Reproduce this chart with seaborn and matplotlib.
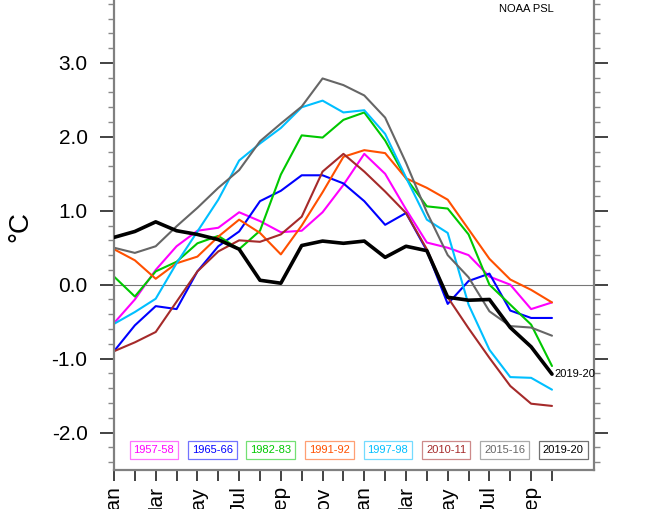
import matplotlib
matplotlib.use("Agg")
import matplotlib.pyplot as plt
import seaborn as sns
import numpy as np
import pandas as pd
from matplotlib.ticker import MultipleLocator, FixedLocator

# ---------------- data ----------------
month_labels = ["Jan", "", "Mar", "", "May", "", "Jul", "", "Sep", "", "Nov", "",
                "Jan", "", "Mar", "", "May", "", "Jul", "", "Sep", ""]
events = ["1957-58", "1965-66", "1982-83", "1991-92", "1997-98", "2010-11", "2015-16", "2019-20"]
colors = ["#FF00FF", "#0000FF", "#00C800", "#FF5000", "#00BFFF", "#A52A2A", "#666666", "#000000"]

v1957 = [-0.52, -0.20, 0.20, 0.52, 0.73, 0.77, 0.98, 0.86, 0.71, 0.73, 0.98, 1.35,
         1.77, 1.50, 1.02, 0.57, 0.50, 0.40, 0.11, 0.00, -0.33, -0.24]
v1965 = [-0.90, -0.55, -0.29, -0.33, 0.18, 0.52, 0.72, 1.13, 1.27, 1.48, 1.48, 1.37,
         1.13, 0.81, 0.97, 0.46, -0.26, 0.05, 0.15, -0.35, -0.45, -0.45]
v1982 = [0.11, -0.16, 0.18, 0.31, 0.56, 0.66, 0.48, 0.73, 1.49, 2.02, 1.99, 2.23,
         2.33, 1.95, 1.44, 1.06, 1.03, 0.68, 0.00, -0.27, -0.54, -1.10]
v1991 = [0.48, 0.33, 0.08, 0.29, 0.38, 0.65, 0.88, 0.70, 0.41, 0.80, 1.25, 1.73,
         1.82, 1.78, 1.44, 1.31, 1.15, 0.75, 0.35, 0.07, -0.07, -0.24]
v1997 = [-0.53, -0.37, -0.19, 0.29, 0.72, 1.15, 1.68, 1.91, 2.12, 2.40, 2.49, 2.33,
         2.36, 2.04, 1.45, 0.88, 0.70, -0.27, -0.88, -1.25, -1.26, -1.42]
v2010 = [-0.90, -0.78, -0.64, -0.23, 0.18, 0.45, 0.60, 0.58, 0.68, 0.92, 1.53, 1.77,
         1.53, 1.26, 0.97, 0.48, -0.17, -0.59, -0.99, -1.37, -1.61, -1.64]
v2015 = [0.50, 0.43, 0.52, 0.79, 1.04, 1.31, 1.55, 1.94, 2.18, 2.41, 2.79, 2.70,
         2.56, 2.26, 1.65, 0.98, 0.40, 0.10, -0.36, -0.56, -0.58, -0.69]
v2019 = [0.64, 0.72, 0.85, 0.73, 0.68, 0.61, 0.48, 0.06, 0.02, 0.53, 0.59, 0.56,
         0.59, 0.37, 0.52, 0.46, -0.17, -0.21, -0.20, -0.58, -0.84, -1.21]
series = [v1957, v1965, v1982, v1991, v1997, v2010, v2015, v2019]

months = np.arange(len(month_labels))
df = pd.DataFrame({
    "month": np.tile(months, len(events)),
    "value": np.concatenate(series),
    "event": np.repeat(events, len(months)),
})

# ---------------- style ----------------
sns.set_style("ticks")
plt.rcParams["font.family"] = ["Liberation Sans", "DejaVu Sans"]
plt.rcParams["text.color"] = "black"
plt.rcParams["xtick.labelcolor"] = "black"
plt.rcParams["ytick.labelcolor"] = "black"

W, H = 666, 509
fig = plt.figure(figsize=(W / 100, H / 100), dpi=100)
ax_left = 114 / W
ax_w = (593.7 - 114) / W
ax_bottom = (509 - 469.5) / H
ax_h = (469.5 + 11) / H
ax = fig.add_axes([ax_left, ax_bottom, ax_w, ax_h])

ax.axhline(0, color="#777777", lw=0.8, zorder=1)

for ev, col in zip(events, colors):
    sub = df[df["event"] == ev]
    lw = 2.6 if ev == "2019-20" else 1.5
    sns.lineplot(data=sub, x="month", y="value", color=col, lw=lw, ax=ax,
                 legend=False, zorder=3 if ev == "2019-20" else 2)

ax.set_xlim(0, 23)
ax.set_ylim(-2.5, 4.0)
ax.set_xlabel("")
ax.set_ylabel("")

ax.xaxis.set_major_locator(FixedLocator(months))
ax.set_xticklabels(month_labels, rotation=90, fontsize=15, color="black")
ax.yaxis.set_major_locator(FixedLocator([-2, -1, 0, 1, 2, 3]))
ax.set_yticklabels([f"{v:.1f}" for v in [-2, -1, 0, 1, 2, 3]], fontsize=15, color="black")
ax.yaxis.set_minor_locator(MultipleLocator(0.2))

for s in ["left", "right", "bottom", "top"]:
    ax.spines[s].set_color("#808080")
    ax.spines[s].set_linewidth(1.6)
ax.tick_params(axis="y", which="major", direction="out", length=10, width=1.2,
               color="#222222", right=True, left=True, pad=9)
ax.tick_params(axis="y", which="minor", direction="out", length=4.5, width=1.0,
               color="#888888", right=True, left=True)
ax.tick_params(axis="x", which="major", direction="out", length=8, width=1.2,
               color="#222222", pad=4)

# legend-like labelled boxes
for k, (ev, col) in enumerate(zip(events, colors)):
    xc = 1.91 + 2.805 * k
    ax.text(xc, -2.24, ev, fontsize=8, color=col, ha="center", va="center",
            bbox=dict(boxstyle="square,pad=0.35", fc="white", ec=col, lw=0.9),
            zorder=5)
for t in ax.texts:
    bp = t.get_bbox_patch()
    ec = bp.get_edgecolor()
    bp.set_edgecolor((ec[0], ec[1], ec[2], 0.55))

ax.text(len(months) - 1 + 0.1, v2019[-1], "2019-20", fontsize=8, color="black",
        ha="left", va="center", zorder=5)

fig.text(526.7 / W, 1 - 9.5 / H, "NOAA PSL", fontsize=8, ha="center", va="center")
fig.text(20 / W, 1 - 227 / H, "°C", fontsize=20, rotation=90, ha="center", va="center")

fig.savefig("out.png", dpi=100)
